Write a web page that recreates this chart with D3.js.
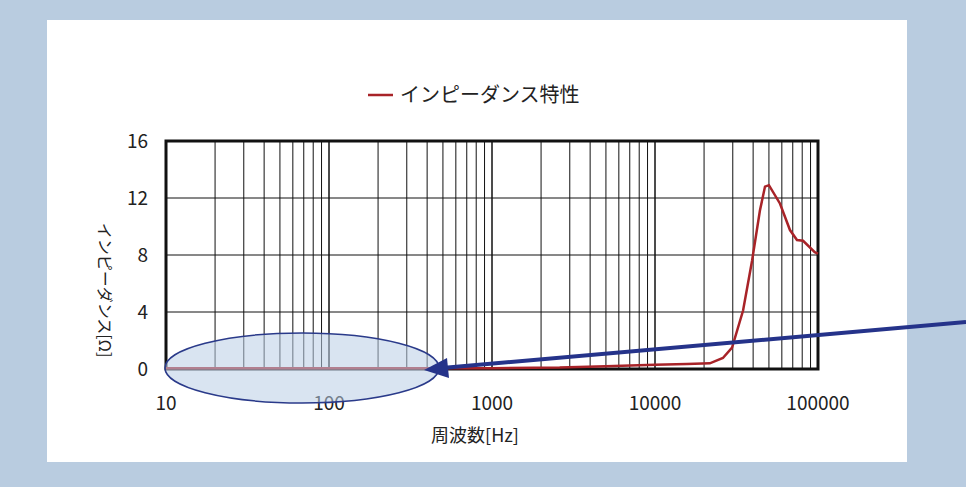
<!DOCTYPE html>
<html>
<head>
<meta charset="utf-8">
<script src="https://cdn.jsdelivr.net/npm/d3@7"></script>
<style>
  html, body { margin: 0; padding: 0; background: #b9cce0; }
  svg { display: block; font-family: "Noto Sans CJK JP", "Noto Sans", sans-serif; }
</style>
</head>
<body>
<svg width="966" height="487"></svg>
<script>
  // data
  var freq = [10, 50, 200, 500, 1000, 2600, 5000, 10000, 15700, 21700, 26100, 29700, 34700, 39400, 44000, 47300, 50000, 58500, 67300, 74300, 81000, 95500, 100000];
  var impedance = [0.05, 0.05, 0.05, 0.05, 0.06, 0.1, 0.2, 0.3, 0.35, 0.4, 0.77, 1.5, 4.1, 7.6, 11.1, 12.8, 12.9, 11.6, 9.75, 9.05, 9.0, 8.2, 8.1];
  var yTicks = [0, 4, 8, 12, 16];
  var xTicks = [10, 100, 1000, 10000, 100000];

  var svg = d3.select('svg');
  svg.append('rect').attr('x', 47).attr('y', 20).attr('width', 860).attr('height', 442).attr('fill', '#fff');

  var x = d3.scaleLog().domain([10, 100000]).range([166, 818]);
  var y = d3.scaleLinear().domain([0, 16]).range([369, 141]);

  // minor vertical grid
  var minors = [];
  for (var d = 10; d < 100000; d *= 10) {
    for (var k = 1; k <= 10; k++) minors.push(d * k);
  }
  svg.append('g').selectAll('line').data(minors).enter().append('line')
    .attr('x1', function (v) { return x(v); }).attr('x2', function (v) { return x(v); })
    .attr('y1', y(0)).attr('y2', y(16))
    .attr('stroke', '#111').attr('stroke-width', 1);
  svg.append('g').selectAll('line').data(yTicks).enter().append('line')
    .attr('x1', x(10)).attr('x2', x(100000))
    .attr('y1', function (v) { return y(v); }).attr('y2', function (v) { return y(v); })
    .attr('stroke', '#111').attr('stroke-width', 1);

  svg.append('rect').attr('x', x(10)).attr('y', y(16))
    .attr('width', x(100000) - x(10)).attr('height', y(0) - y(16))
    .attr('fill', 'none').attr('stroke', '#111').attr('stroke-width', 3);

  svg.append('g').selectAll('text').data(yTicks).enter().append('text')
    .attr('x', 148).attr('y', function (v) { return y(v) + 7; })
    .attr('text-anchor', 'end').attr('font-size', 19).attr('fill', '#222')
    .text(function (v) { return v; });
  svg.append('g').selectAll('text').data(xTicks).enter().append('text')
    .attr('x', function (v) { return x(v); }).attr('y', 410)
    .attr('text-anchor', 'middle').attr('font-size', 19).attr('fill', '#222')
    .text(function (v) { return v; });

  var line = d3.line()
    .x(function (d, i) { return x(freq[i]); })
    .y(function (d) { return y(d); });
  svg.append('path').datum(impedance).attr('d', line)
    .attr('fill', 'none').attr('stroke', '#a82328').attr('stroke-width', 2.5);

  // overlay annotation
  svg.append('ellipse').attr('cx', 302).attr('cy', 368).attr('rx', 137).attr('ry', 35)
    .attr('fill', 'rgba(185,205,230,0.55)').attr('stroke', '#2a3a8a').attr('stroke-width', 1.5);
  svg.append('line').attr('x1', 966).attr('y1', 322).attr('x2', 442).attr('y2', 368)
    .attr('stroke', '#25338a').attr('stroke-width', 4);
  svg.append('path').attr('d', 'M424,370 L447,358 L449,378 Z').attr('fill', '#25338a');

  // legend
  svg.append('line').attr('x1', 368).attr('x2', 393).attr('y1', 95).attr('y2', 95)
    .attr('stroke', '#a82328').attr('stroke-width', 2.5);
  svg.append('text').attr('x', 400).attr('y', 102).attr('font-size', 20).attr('fill', '#222')
    .text('インピーダンス特性');

  svg.append('text').attr('x', 475).attr('y', 442).attr('text-anchor', 'middle')
    .attr('font-size', 18).attr('fill', '#222').text('周波数[Hz]');
  svg.append('text').attr('transform', 'translate(99,290) rotate(90)')
    .attr('text-anchor', 'middle').attr('font-size', 16).attr('fill', '#222')
    .text('インピーダンス[Ω]');
</script>
</body>
</html>
